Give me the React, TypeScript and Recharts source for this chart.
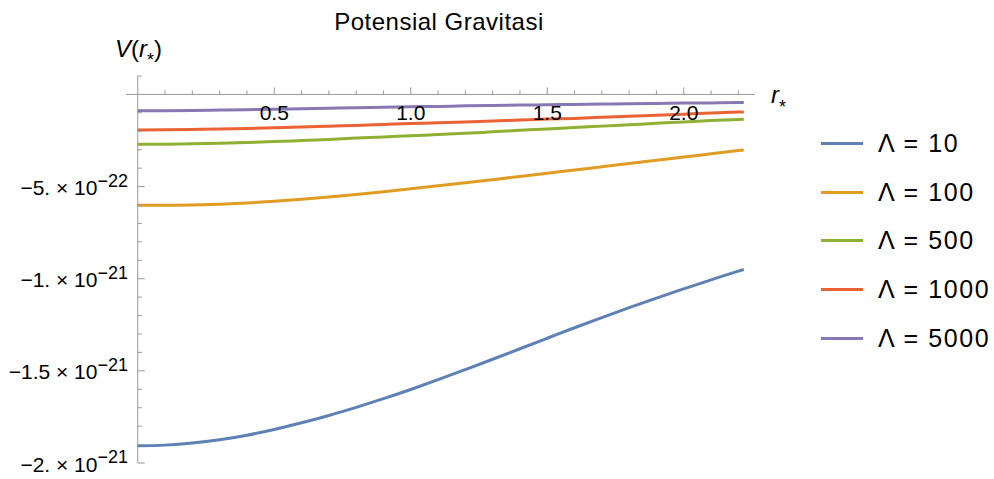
import React from "react";
import { Legend, Line, LineChart, ReferenceLine, XAxis, YAxis } from "recharts";

// r_* sample positions
const rValues = [
  0, 0.1, 0.2, 0.3, 0.4, 0.5, 0.6, 0.7, 0.8, 0.9, 1.0, 1.1, 1.2, 1.3, 1.4, 1.5, 1.6, 1.7, 1.8,
  1.9, 2.0, 2.1, 2.2, 2.22,
];

// V(r_*) for each Λ
const lambda10 = [
  -19.07e-22, -19.03e-22, -18.92e-22, -18.74e-22, -18.49e-22, -18.18e-22, -17.82e-22,
  -17.42e-22, -16.98e-22, -16.51e-22, -16.01e-22, -15.48e-22, -14.93e-22, -14.37e-22,
  -13.8e-22, -13.23e-22, -12.66e-22, -12.11e-22, -11.57e-22, -11.05e-22, -10.55e-22,
  -10.06e-22, -9.59e-22, -9.5e-22,
];
const lambda100 = [
  -6.02e-22, -6.015e-22, -5.995e-22, -5.955e-22, -5.89e-22, -5.8e-22, -5.69e-22, -5.565e-22,
  -5.427e-22, -5.279e-22, -5.123e-22, -4.961e-22, -4.794e-22, -4.624e-22, -4.452e-22,
  -4.278e-22, -4.103e-22, -3.927e-22, -3.751e-22, -3.575e-22, -3.399e-22, -3.223e-22,
  -3.047e-22, -3.012e-22,
];
const lambda500 = [
  -2.71e-22, -2.7e-22, -2.68e-22, -2.65e-22, -2.61e-22, -2.56e-22, -2.5e-22, -2.44e-22,
  -2.37e-22, -2.31e-22, -2.24e-22, -2.18e-22, -2.11e-22, -2.03e-22, -1.95e-22, -1.87e-22,
  -1.8e-22, -1.72e-22, -1.65e-22, -1.57e-22, -1.49e-22, -1.42e-22, -1.36e-22, -1.35e-22,
];
const lambda1000 = [
  -1.93e-22, -1.92e-22, -1.9e-22, -1.88e-22, -1.85e-22, -1.81e-22, -1.77e-22, -1.72e-22,
  -1.68e-22, -1.63e-22, -1.58e-22, -1.54e-22, -1.49e-22, -1.44e-22, -1.39e-22, -1.34e-22,
  -1.3e-22, -1.24e-22, -1.19e-22, -1.13e-22, -1.07e-22, -1.01e-22, -0.96e-22, -0.95e-22,
];
const lambda5000 = [
  -0.88e-22, -0.88e-22, -0.87e-22, -0.85e-22, -0.83e-22, -0.8e-22, -0.78e-22, -0.75e-22,
  -0.72e-22, -0.7e-22, -0.67e-22, -0.65e-22, -0.62e-22, -0.6e-22, -0.58e-22, -0.56e-22,
  -0.54e-22, -0.52e-22, -0.5e-22, -0.49e-22, -0.47e-22, -0.46e-22, -0.44e-22, -0.44e-22,
];

const series = [
  { key: "l10", label: "Λ = 10", color: "#5E81B5", values: lambda10 },
  { key: "l100", label: "Λ = 100", color: "#E19C24", values: lambda100 },
  { key: "l500", label: "Λ = 500", color: "#8FB032", values: lambda500 },
  { key: "l1000", label: "Λ = 1000", color: "#EB6235", values: lambda1000 },
  { key: "l5000", label: "Λ = 5000", color: "#8778B3", values: lambda5000 },
];

const xTicks = [
  0.1, 0.2, 0.3, 0.4, 0.5, 0.6, 0.7, 0.8, 0.9, 1.0, 1.1, 1.2, 1.3, 1.4, 1.5, 1.6, 1.7, 1.8, 1.9,
  2.0, 2.1, 2.2,
];
const xMajorTicks = [0.5, 1.0, 1.5, 2.0];
const xMajorLabels = ["0.5", "1.0", "1.5", "2.0"];

const yMajorTicks = [-5e-22, -1e-21, -1.5e-21, -2e-21];
const yMajorMantissas = ["−5.", "−1.", "−1.5", "−2."];
const yMajorExponents = ["−22", "−21", "−21", "−21"];
// minor ticks every 1e-22, from -2e-21 up to 1e-22 (0 is the x axis itself)
const yTicks = Array.from({ length: 22 }, (_, i) => (i - 20) * 1e-22).filter((v) => v !== 0);

const data = rValues.map((r, i) => {
  const row: Record<string, number> = { r };
  series.forEach((s) => (row[s.key] = s.values[i]));
  return row;
});

const W = 994;
const H = 479;
const PLOT_LEFT = 126;
const PLOT_RIGHT = 755;
const PLOT_TOP = 76;
const PLOT_BOTTOM = 463;
const X_DOMAIN: [number, number] = [-0.043, 2.261];
const Y_DOMAIN: [number, number] = [-2e-21, 1e-22];
const Y_AXIS_W = 100;
const X_AXIS_H = 10;

const ZERO_X =
  PLOT_LEFT + ((PLOT_RIGHT - PLOT_LEFT) * (0 - X_DOMAIN[0])) / (X_DOMAIN[1] - X_DOMAIN[0]);
const ZERO_Y =
  PLOT_TOP + ((PLOT_BOTTOM - PLOT_TOP) * (Y_DOMAIN[1] - 0)) / (Y_DOMAIN[1] - Y_DOMAIN[0]);

const FONT = "'Liberation Sans', Arial, sans-serif";
const AXIS = "#999999";

const near = (a: number, b: number, eps: number) => Math.abs(a - b) < eps;

function XTick(props: any) {
  const { x, payload } = props;
  const idx = xMajorTicks.findIndex((t) => near(t, payload.value, 1e-6));
  const major = idx >= 0;
  return (
    <g>
      <line x1={x} x2={x} y1={ZERO_Y} y2={ZERO_Y - (major ? 7 : 4)} stroke={AXIS} />
      {major && (
        <text x={x} y={ZERO_Y + 26} textAnchor="middle" fontSize={21} fontFamily={FONT} fill="#000">
          {xMajorLabels[idx]}
        </text>
      )}
    </g>
  );
}

function YTick(props: any) {
  const { y, payload } = props;
  const idx = yMajorTicks.findIndex((t) => near(t, payload.value, 1e-24));
  const major = idx >= 0;
  return (
    <g>
      <line x1={ZERO_X} x2={ZERO_X + (major ? 7 : 4)} y1={y} y2={y} stroke={AXIS} />
      {major && (
        <text x={128} y={y + 8.5} textAnchor="end" fontSize={21} fontFamily={FONT} fill="#000">
          <tspan>{`${yMajorMantissas[idx]} × 10`}</tspan>
          <tspan fontSize={18} dy={-8.5}>
            {yMajorExponents[idx]}
          </tspan>
        </text>
      )}
    </g>
  );
}

function LegendBox() {
  return (
    <div style={{ fontFamily: FONT, fontSize: 25, color: "#000", letterSpacing: 1.6 }}>
      {series.map((s) => (
        <div key={s.key} style={{ display: "flex", alignItems: "center", height: 48.75 }}>
          <span style={{ width: 42, height: 3, background: s.color, display: "inline-block" }} />
          <span style={{ marginLeft: 15, whiteSpace: "nowrap" }}>{s.label}</span>
        </div>
      ))}
    </div>
  );
}

export default function App() {
  return (
    <div style={{ position: "absolute", left: 0, top: 0, width: W, height: H, background: "#fff" }}>
      <LineChart
        width={W}
        height={H}
        data={data}
        margin={{
          top: PLOT_TOP,
          right: W - PLOT_RIGHT,
          bottom: H - PLOT_BOTTOM - X_AXIS_H,
          left: PLOT_LEFT - Y_AXIS_W,
        }}
      >
        <XAxis
          dataKey="r"
          type="number"
          domain={X_DOMAIN}
          allowDataOverflow
          ticks={xTicks}
          interval={0}
          tick={<XTick />}
          axisLine={false}
          tickLine={false}
          height={X_AXIS_H}
        />
        <YAxis
          type="number"
          domain={Y_DOMAIN}
          allowDataOverflow
          ticks={yTicks}
          interval={0}
          tick={<YTick />}
          axisLine={false}
          tickLine={false}
          width={Y_AXIS_W}
        />
        <ReferenceLine y={0} stroke={AXIS} strokeWidth={1} />
        <ReferenceLine x={0} stroke={AXIS} strokeWidth={1} />
        {series.map((s) => (
          <Line
            key={s.key}
            type="monotone"
            dataKey={s.key}
            stroke={s.color}
            strokeWidth={3}
            dot={false}
            activeDot={false}
            isAnimationActive={false}
          />
        ))}
        <Legend
          layout="vertical"
          align="center"
          verticalAlign="middle"
          content={() => <LegendBox />}
          wrapperStyle={{ left: 821, top: 119, width: 173, height: 250 }}
        />
      </LineChart>
      <svg
        width={W}
        height={H}
        style={{ position: "absolute", left: 0, top: 0, pointerEvents: "none" }}
        fontFamily={FONT}
      >
        <text x={439} y={30} textAnchor="middle" fontSize={24} fill="#000" letterSpacing={0.5}>
          Potensial Gravitasi
        </text>
        <text x={115} y={57} fontSize={24} fill="#000">
          <tspan fontStyle="italic">V</tspan>
          <tspan>(</tspan>
          <tspan fontStyle="italic">r</tspan>
          <tspan fontSize={18} dy={9}>
            *
          </tspan>
          <tspan dy={-9}>)</tspan>
        </text>
        <text x={771} y={102.7} fontSize={24} fill="#000">
          <tspan fontStyle="italic">r</tspan>
          <tspan fontSize={18} dy={10}>
            *
          </tspan>
        </text>
      </svg>
    </div>
  );
}
